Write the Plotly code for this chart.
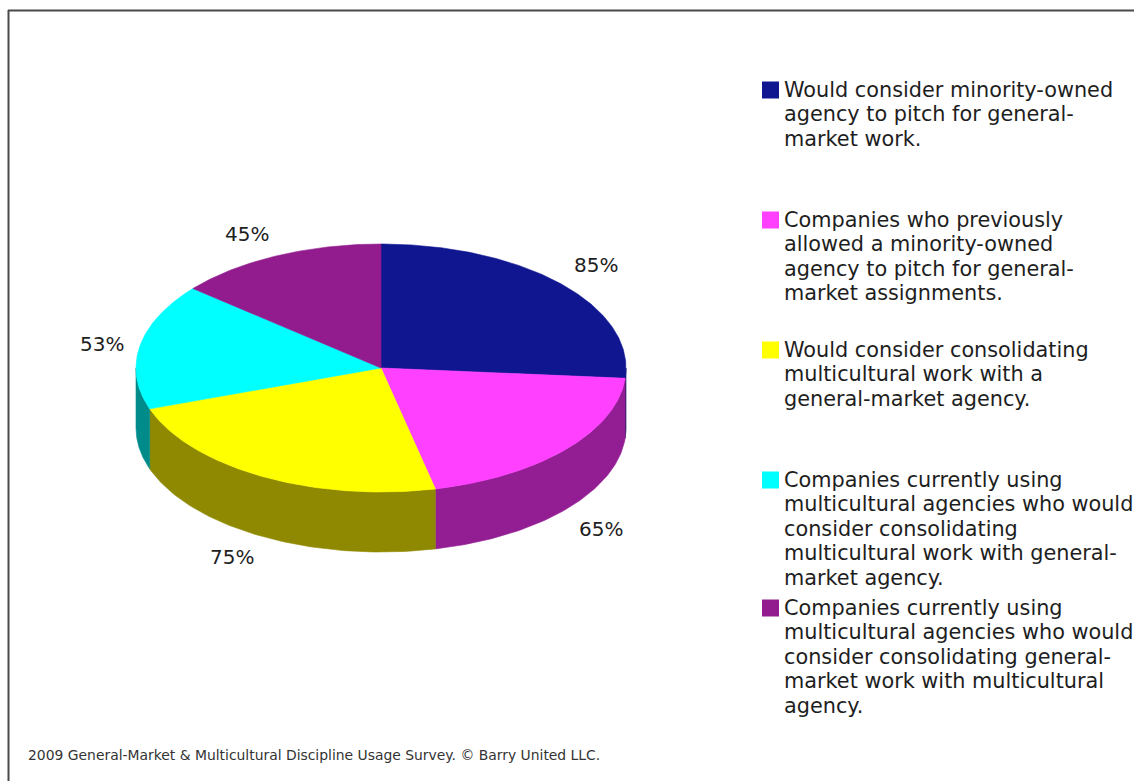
import numpy as np
import plotly.graph_objects as go

# ---- data -------------------------------------------------------------
categories = [
    "Would consider minority-owned agency to pitch for general-market work.",
    "Companies who previously allowed a minority-owned agency to pitch for general-market assignments.",
    "Would consider consolidating multicultural work with a general-market agency.",
    "Companies currently using multicultural agencies who would consider consolidating multicultural work with general-market agency.",
    "Companies currently using multicultural agencies who would consider consolidating general-market work with multicultural agency.",
]
values = [85, 65, 75, 53, 45]

# legend text, wrapped the way it is set on the page
legend_lines = [
    ["Would consider minority-owned", "agency to pitch for general-", "market work."],
    ["Companies who previously", "allowed a minority-owned",
     "agency to pitch for general-", "market assignments."],
    ["Would consider consolidating", "multicultural work with a",
     "general-market agency."],
    ["Companies currently using", "multicultural agencies who would",
     "consider consolidating", "multicultural work with general-",
     "market agency."],
    ["Companies currently using", "multicultural agencies who would",
     "consider consolidating general-", "market work with multicultural",
     "agency."],
]
footer_text = "2009 General-Market & Multicultural Discipline Usage Survey. \u00a9 Barry United LLC."

# ---- styling ----------------------------------------------------------
top_colors = ["#0F1690", "#FF40FF", "#FFFF00", "#00FFFF", "#921C8E"]
side_colors = ["#0A0E5A", "#931E93", "#8E8900", "#008B8B", "#5E125C"]
TEXT = "#1E1E1E"
FONT = "DejaVu Sans, Verdana, sans-serif"

W, H = 1134, 781
CX, CY = 381.0, 368.0      # centre of the top face
RX, RY = 245.0, 124.0      # radii of the top ellipse
DEPTH = 60.0               # thickness of the disc
LRX, LRY = 259.0, 132.0    # ellipse on which slice labels are anchored


def ell(theta_deg, dy=0.0, rx=RX, ry=RY):
    t = np.radians(theta_deg)
    return CX + rx * np.sin(t), CY - ry * np.cos(t) + dy


fig = go.Figure()

total = float(sum(values))
bounds = np.concatenate([[0.0], np.cumsum(values) / total * 360.0])

# side walls (only the front half, 90..270 deg clockwise from 12 o'clock, shows)
for i in range(len(values)):
    a0, a1 = max(bounds[i], 90.0), min(bounds[i + 1], 270.0)
    if a1 <= a0:
        continue
    th = np.linspace(a0, a1, 80)
    xt, yt = ell(th)
    xb, yb = ell(th[::-1], DEPTH)
    fig.add_trace(go.Scatter(
        x=np.concatenate([xt, xb, xt[:1]]), y=np.concatenate([yt, yb, yt[:1]]),
        mode="lines", fill="toself", fillcolor=side_colors[i],
        line=dict(width=0.6, color=side_colors[i]),
        hoverinfo="skip", showlegend=False))

# top face slices
for i in range(len(values)):
    th = np.linspace(bounds[i], bounds[i + 1], 160)
    xs, ys = ell(th)
    fig.add_trace(go.Scatter(
        x=np.concatenate([[CX], xs, [CX]]), y=np.concatenate([[CY], ys, [CY]]),
        mode="lines", fill="toself", fillcolor=top_colors[i],
        line=dict(width=0.6, color=top_colors[i]),
        name=categories[i], hoverinfo="skip", showlegend=False))

annotations = []

# value labels outside each slice
for i, v in enumerate(values):
    mid = (bounds[i] + bounds[i + 1]) / 2.0
    s, c = np.sin(np.radians(mid)), np.cos(np.radians(mid))
    lx, ly = ell(mid, DEPTH if c < 0 else 0.0, LRX, LRY)
    xa = "left" if s >= 0 else "right"
    if abs(c) < 0.3:
        ya = "middle"
    else:
        ya = "bottom" if c > 0 else "top"
    annotations.append(dict(
        x=lx, y=ly, xref="x", yref="y", text=f"{v}%", showarrow=False,
        xanchor=xa, yanchor=ya, font=dict(family=FONT, size=20, color=TEXT)))

# legend: swatches and wrapped text
legend_first_line = [90, 220, 350, 480, 608]
LINE_STEP = 24.4
shapes = []
for i, lines in enumerate(legend_lines):
    y0 = legend_first_line[i]
    shapes.append(dict(type="rect", xref="x", yref="y",
                       x0=762, x1=779, y0=y0 - 8.5, y1=y0 + 8.5,
                       fillcolor=top_colors[i], line=dict(width=0)))
    for k, txt in enumerate(lines):
        annotations.append(dict(
            x=782, y=y0 + k * LINE_STEP, xref="x", yref="y", text=txt,
            showarrow=False, xanchor="left", yanchor="middle",
            font=dict(family=FONT, size=20.8, color=TEXT)))

# footer credit
annotations.append(dict(
    x=26, y=755, xref="x", yref="y", text=footer_text, showarrow=False,
    xanchor="left", yanchor="middle",
    font=dict(family="DejaVu Sans, sans-serif", size=13.9, color="#333333")))

# frame lines (left and top)
shapes.append(dict(type="line", xref="x", yref="y", x0=8.5, x1=8.5, y0=10, y1=H,
                   line=dict(color="#4A4A4A", width=2)))
shapes.append(dict(type="line", xref="x", yref="y", x0=8, x1=W, y0=10.5, y1=10.5,
                   line=dict(color="#4A4A4A", width=2)))

fig.update_layout(
    width=W, height=H, autosize=False,
    margin=dict(l=0, r=0, t=0, b=0),
    paper_bgcolor="white", plot_bgcolor="white",
    xaxis=dict(range=[0, W], visible=False, fixedrange=True),
    yaxis=dict(range=[H, 0], visible=False, fixedrange=True),
    annotations=annotations, shapes=shapes,
)

fig.write_html("out.html", config={"displayModeBar": False})
